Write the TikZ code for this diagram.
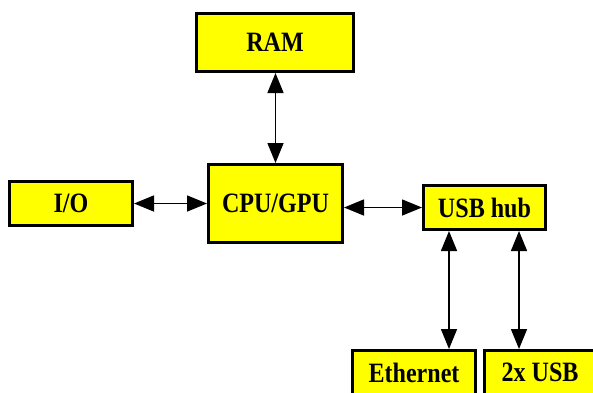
\documentclass[tikz,border=0pt]{standalone}
\usepackage{fontspec}
\setmainfont{Liberation Serif}[FakeStretch=0.86]
\usetikzlibrary{arrows.meta}
\definecolor{boxyellow}{RGB}{255,255,0}
\begin{document}
\begin{tikzpicture}[x=1pt,y=-1pt,
  blk/.style={draw=black, fill=boxyellow, line width=3pt, inner sep=0pt,
    font=\fontsize{28}{32}\selectfont\bfseries},
  link/.style={line width=1.5pt, {Triangle[length=20pt,width=16pt]}-{Triangle[length=20pt,width=16pt]}}]
\useasboundingbox (0,0) rectangle (593,392);
\clip (0,0) rectangle (593,392);
\node[blk, minimum width=157pt, minimum height=58pt] (ram) at (275,42.5) {RAM};
\node[blk, minimum width=134pt, minimum height=78pt] (cpu) at (275.5,203.5) {CPU/GPU};
\node[blk, minimum width=123pt, minimum height=44pt] (io) at (71,203.5) {I/O};
\node[blk, minimum width=122pt, minimum height=44pt] (hub) at (484.5,207.5) {USB hub};
\node[blk, minimum width=123pt, minimum height=44pt] (eth) at (414,372.5) {Ethernet};
\node[blk, minimum width=137pt, minimum height=44pt] (usb) at (553,372.5) {\hspace*{-26pt}2x USB};
\coordinate (ea) at (449,0);
\coordinate (ua) at (519,0);
\draw[link] (ram.south -| cpu.north) -- (cpu.north);
\draw[link] (io.east) -- (io.east -| cpu.west);
\draw[link] (cpu.east |- hub.west) -- (hub.west);
\draw[link] (hub.south -| ea) -- (eth.north -| ea);
\draw[link] (hub.south -| ua) -- (usb.north -| ua);
\end{tikzpicture}
\end{document}
